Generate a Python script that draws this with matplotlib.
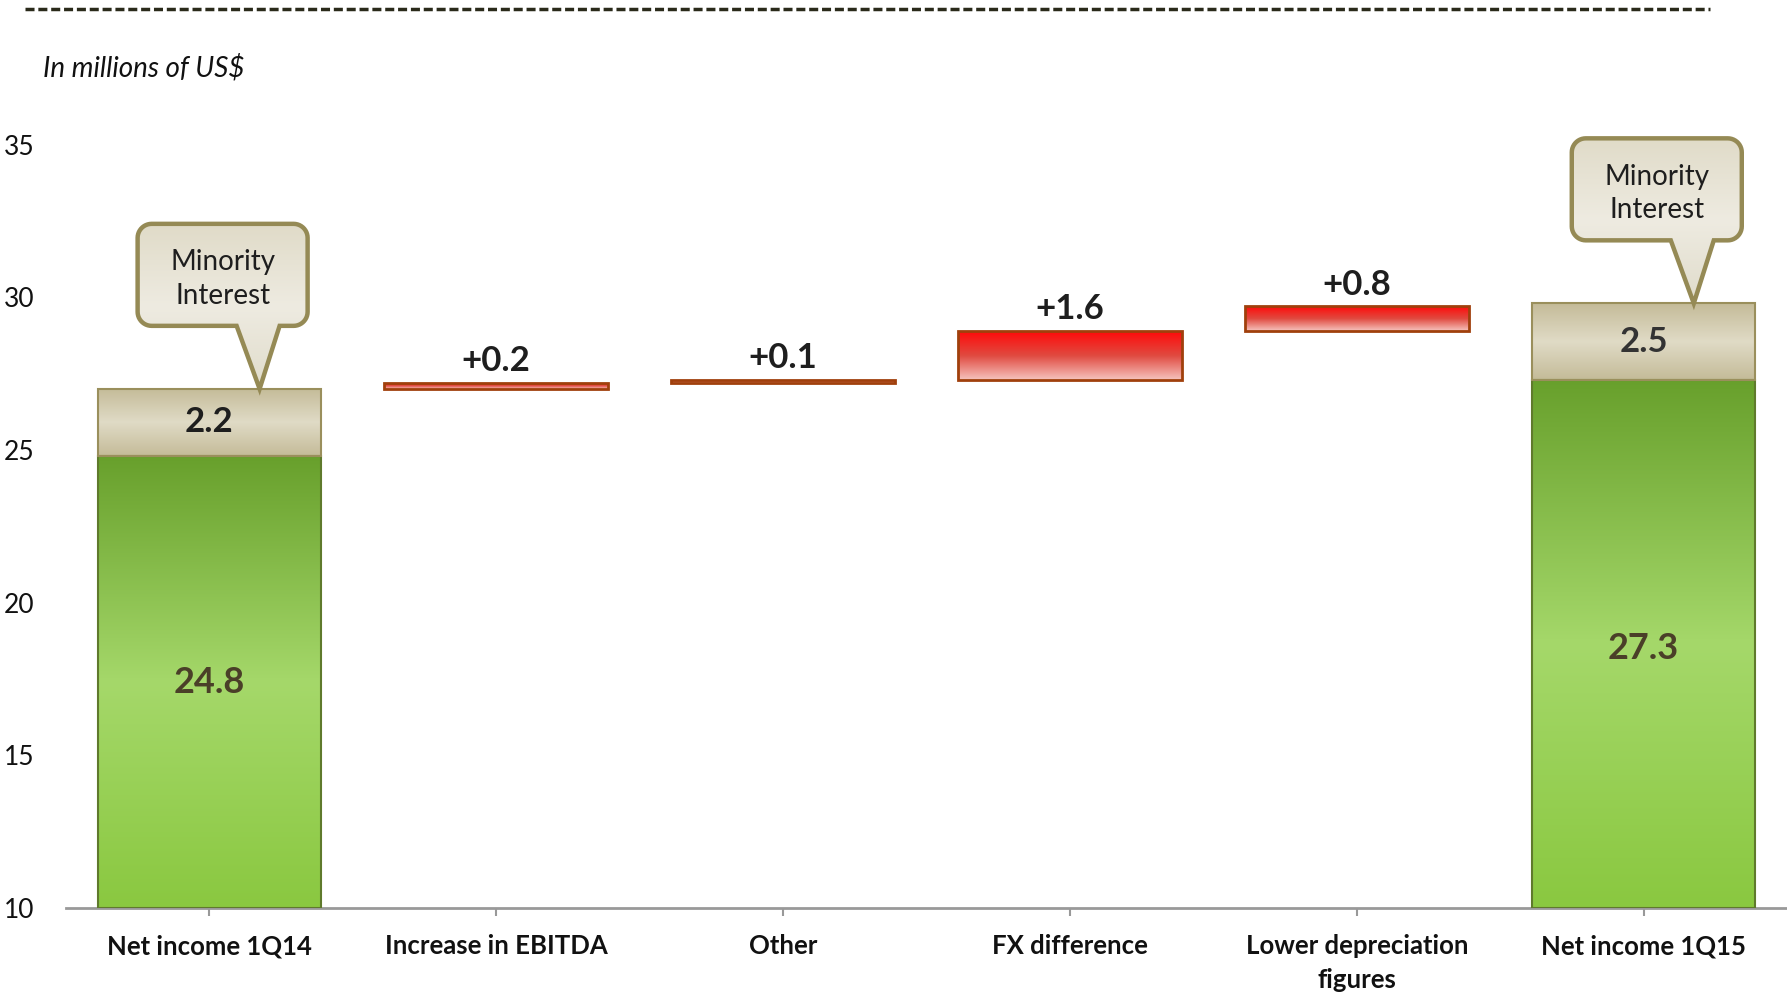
import numpy as np
import matplotlib
matplotlib.use("Agg")
import matplotlib.pyplot as plt
from matplotlib.patches import Rectangle, PathPatch
from matplotlib.path import Path
from matplotlib.lines import Line2D
from matplotlib.colors import LinearSegmentedColormap

plt.rcParams['font.family'] = ['Lato', 'DejaVu Sans']

categories = ['Net income 1Q14', 'Increase in EBITDA', 'Other', 'FX difference',
              'Lower depreciation\nfigures', 'Net income 1Q15']
net_income = [24.8, 27.3]          # first and last bar, green part
minority = [2.2, 2.5]              # beige part on top
deltas = [0.2, 0.1, 1.6, 0.8]      # middle steps
delta_labels = ['+0.2', '+0.1', '+1.6', '+0.8']
y_ticks = [10, 15, 20, 25, 30, 35]
base = 10

W, H = 1787, 1001
fig = plt.figure(figsize=(W / 100, H / 100), dpi=100)
ax = fig.add_axes([66 / W, 1 - 908 / H, 1 - 66 / W, (908 - 114) / H])
ax.set_xlim(-0.5, 5.5)
ax.set_ylim(10, 36)

green = LinearSegmentedColormap.from_list('g', ['#8ac840', '#a5d86a', '#68a02c'])
beige = LinearSegmentedColormap.from_list('b', ['#c4bb98', '#e0dbc6', '#c4bb98'])
red = LinearSegmentedColormap.from_list('r', ['#f6c4be', '#e04a40', '#ff0a0a'])
callout_cm = LinearSegmentedColormap.from_list('c', ['#e0dccb', '#eeebe1', '#e0dbc8'])

grad = np.linspace(0, 1, 256).reshape(-1, 1)
bw = 0.78


def grad_bar(x, y0, y1, cmap, edge, lw=1.5):
    rect = Rectangle((x - bw / 2, y0), bw, y1 - y0, facecolor='none',
                     edgecolor=edge, linewidth=lw, zorder=3)
    ax.add_patch(rect)
    im = ax.imshow(grad, cmap=cmap, aspect='auto', origin='lower',
                   extent=(x - bw / 2, x + bw / 2, y0, y1), zorder=2)
    im.set_clip_path(rect)


# end bars
for i, x in enumerate([0, 5]):
    top_g = net_income[i]
    grad_bar(x, base, top_g, green, '#5f7a2c')
    grad_bar(x, top_g, top_g + minority[i], beige, '#9a8f5c')
    ax.text(x, (base + top_g) / 2 if i == 0 else 18.5, f'{net_income[i]}',
            ha='center', va='center', fontsize=26, fontweight='bold', color='#4a3f28', zorder=4)
    ax.text(x, top_g + minority[i] / 2, f'{minority[i]}', ha='center', va='center',
            fontsize=25, fontweight='bold', color='#1e1e1e' if i == 0 else '#333333', zorder=4)

# middle steps
level = net_income[0] + minority[0]
for j, d in enumerate(deltas):
    x = j + 1
    grad_bar(x, level, level + d, red, '#a0400c', lw=2)
    ax.annotate(delta_labels[j], (x, level + d), xytext=(0, 4), textcoords='offset points',
                ha='center', va='bottom', fontsize=25, fontweight='bold', color='#1e1e1e')
    level += d


# callouts, drawn in pixels relative to the tip, then mapped to data coords
def callout(x, ytip):
    tx, ty = ax.transData.transform((x + 0.175, ytip))
    l, r, b, t, rad = -122, 48, 63, 165, 14
    pts = [(-23, b), (0, 0), (20, b)]
    corners = [(r - rad, b + rad, -90, 0), (r - rad, t - rad, 0, 90),
               (l + rad, t - rad, 90, 180), (l + rad, b + rad, 180, 270)]
    for cx, cy, a0, a1 in corners:
        for a in np.radians(np.linspace(a0, a1, 12)):
            pts.append((cx + rad * np.cos(a), cy + rad * np.sin(a)))
    pts.append((-23, b))
    pix = np.array(pts) + [tx, ty]
    verts = ax.transData.inverted().transform(pix)
    patch = PathPatch(Path(verts, closed=True), facecolor='none', edgecolor='#958a55',
                      linewidth=3.2, zorder=6, clip_on=False)
    ax.add_patch(patch)
    x0, y0 = verts.min(axis=0)
    x1, y1 = verts.max(axis=0)
    im = ax.imshow(grad, cmap=callout_cm, aspect='auto', origin='lower',
                   extent=(x0, x1, y0, y1), zorder=5)
    im.set_clip_path(patch)
    cx, cy = ax.transData.inverted().transform((tx + (l + r) / 2, ty + (b + t) / 2 - 4))
    ax.text(cx, cy, 'Minority\nInterest', ha='center', va='center', fontsize=20,
            color='#1e1e1e', linespacing=1.35, zorder=7)


callout(0, net_income[0] + minority[0])
callout(5, net_income[1] + minority[1])

ax.set_xlim(-0.5, 5.5)
ax.set_ylim(10, 36)

for s in ['top', 'right', 'left']:
    ax.spines[s].set_visible(False)
ax.spines['bottom'].set_color('#999999')
ax.spines['bottom'].set_linewidth(2)
ax.set_xticks(range(len(categories)))
ax.set_xticklabels(categories, fontsize=18.5, fontweight='bold', color='#111111', linespacing=1.5)
ax.tick_params(axis='x', length=6, width=1.5, color='#999999', pad=13)
ax.set_yticks(y_ticks)
ax.set_yticklabels([str(v) for v in y_ticks], fontsize=19, color='#111111')
ax.tick_params(axis='y', length=0, pad=23)
ax.set_facecolor('white')

fig.text(43 / W, 1 - 68 / H, 'In millions of US$', fontsize=20, style='italic',
         ha='left', va='center', color='#111111')
fig.add_artist(Line2D([25 / W, 1710 / W], [1 - 9 / H, 1 - 9 / H], color='#2a2a1a',
                      linewidth=2.5, linestyle=(0, (2.6, 1.1))))

fig.savefig('out.png', dpi=100)
